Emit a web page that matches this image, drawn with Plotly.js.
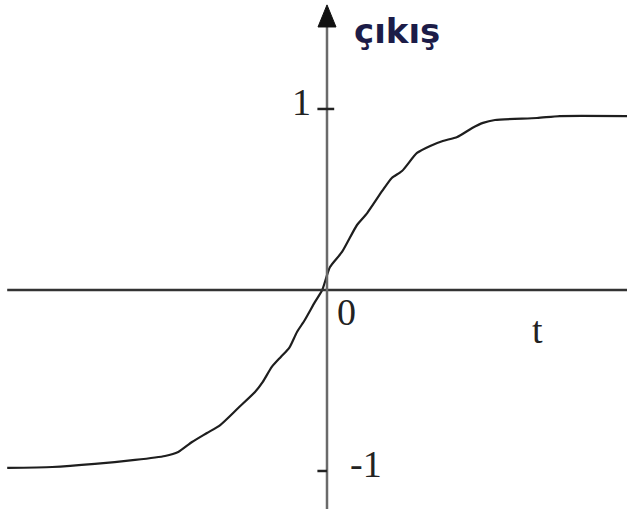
<!DOCTYPE html>
<html>
<head>
<meta charset="utf-8">
<script src="https://cdn.plot.ly/plotly-3.0.1.min.js"></script>
<style>
  html, body { margin: 0; padding: 0; background: #ffffff; }
  #chart { width: 627px; height: 509px; }
</style>
</head>
<body>
<div id="chart"></div>
<script>
// Sigmoid-shaped response: output ("çıkış") against time t
const tValues = [-5.33, -4.58, -3.87, -3.20, -2.70, -2.48, -2.25, -2.00, -1.78, -1.48,
                 -1.20, -1.07, -0.92, -0.77, -0.63, -0.50, -0.37, -0.20, -0.08, 0.05,
                 0.25, 0.50, 0.67, 0.92, 1.08, 1.25, 1.50, 1.72, 1.93, 2.17,
                 2.42, 2.60, 2.80, 3.50, 3.88, 5.00];
const outputValues = [-0.983, -0.978, -0.961, -0.939, -0.917, -0.895, -0.840, -0.790, -0.746, -0.652,
                      -0.564, -0.508, -0.425, -0.370, -0.320, -0.232, -0.166, -0.066, 0.000, 0.127,
                      0.210, 0.359, 0.425, 0.547, 0.619, 0.657, 0.757, 0.796, 0.823, 0.845,
                      0.895, 0.923, 0.939, 0.950, 0.961, 0.961];

// Tick marks on the vertical axis and their labels
const yTickValues = [1, -1];
const yTickLabels = ['1', '-1'];

const xRange = [-5.45, 5.0];
const yRange = [-1.21, 1.602];

const serif = 'Liberation Serif, Times New Roman, serif';

const curve = {
  x: tValues,
  y: outputValues,
  type: 'scatter',
  mode: 'lines',
  line: { color: '#1e1e1e', width: 2.2, shape: 'spline', smoothing: 0.6 },
  hoverinfo: 'skip'
};

const shapes = [
  // horizontal (t) axis
  { type: 'line', xref: 'x', yref: 'y', x0: -5.33, x1: xRange[1], y0: 0, y1: 0,
    line: { color: '#333333', width: 2.5 } },
  // vertical (output) axis
  { type: 'line', xref: 'x', yref: 'y', x0: 0, x1: 0, y0: yRange[0], y1: 1.46,
    line: { color: '#6a6a6a', width: 2.5 } },
  // arrowhead at top of vertical axis
  { type: 'path', xref: 'x', yref: 'y',
    path: 'M -0.15 1.453 L 0 1.575 L 0.15 1.453 Z',
    fillcolor: '#111111', line: { color: '#111111', width: 1 } }
];
yTickValues.forEach(function (v) {
  shapes.push({ type: 'line', xref: 'x', yref: 'y',
    x0: -0.16, x1: v > 0 ? 0.12 : 0.0, y0: v, y1: v,
    line: { color: '#222222', width: 2.5 } });
});

const annotations = [
  { x: -0.42, y: 1.04, xref: 'x', yref: 'y', text: yTickLabels[0], showarrow: false,
    font: { family: serif, size: 38, color: '#222222' } },
  { x: 0.65, y: yTickValues[1] + 0.04, xref: 'x', yref: 'y', text: yTickLabels[1], showarrow: false,
    font: { family: serif, size: 38, color: '#222222' } },
  { x: 0.32, y: -0.12, xref: 'x', yref: 'y', text: '0', showarrow: false,
    font: { family: serif, size: 38, color: '#222222' } },
  { x: 3.5, y: -0.22, xref: 'x', yref: 'y', text: 't', showarrow: false,
    font: { family: serif, size: 38, color: '#222222' } },
  { x: 0.42, y: 1.43, xref: 'x', yref: 'y', text: '<b>çıkış</b>', showarrow: false,
    xanchor: 'left',
    font: { family: 'DejaVu Sans, sans-serif', size: 34, color: '#1c1c48' } }
];

const layout = {
  width: 627,
  height: 509,
  margin: { l: 0, r: 0, t: 0, b: 0, pad: 0 },
  paper_bgcolor: '#ffffff',
  plot_bgcolor: '#ffffff',
  showlegend: false,
  xaxis: { range: xRange, visible: false, fixedrange: true },
  yaxis: { range: yRange, visible: false, fixedrange: true },
  shapes: shapes,
  annotations: annotations
};

Plotly.newPlot('chart', [curve], layout, { staticPlot: true, displayModeBar: false });
</script>
</body>
</html>
